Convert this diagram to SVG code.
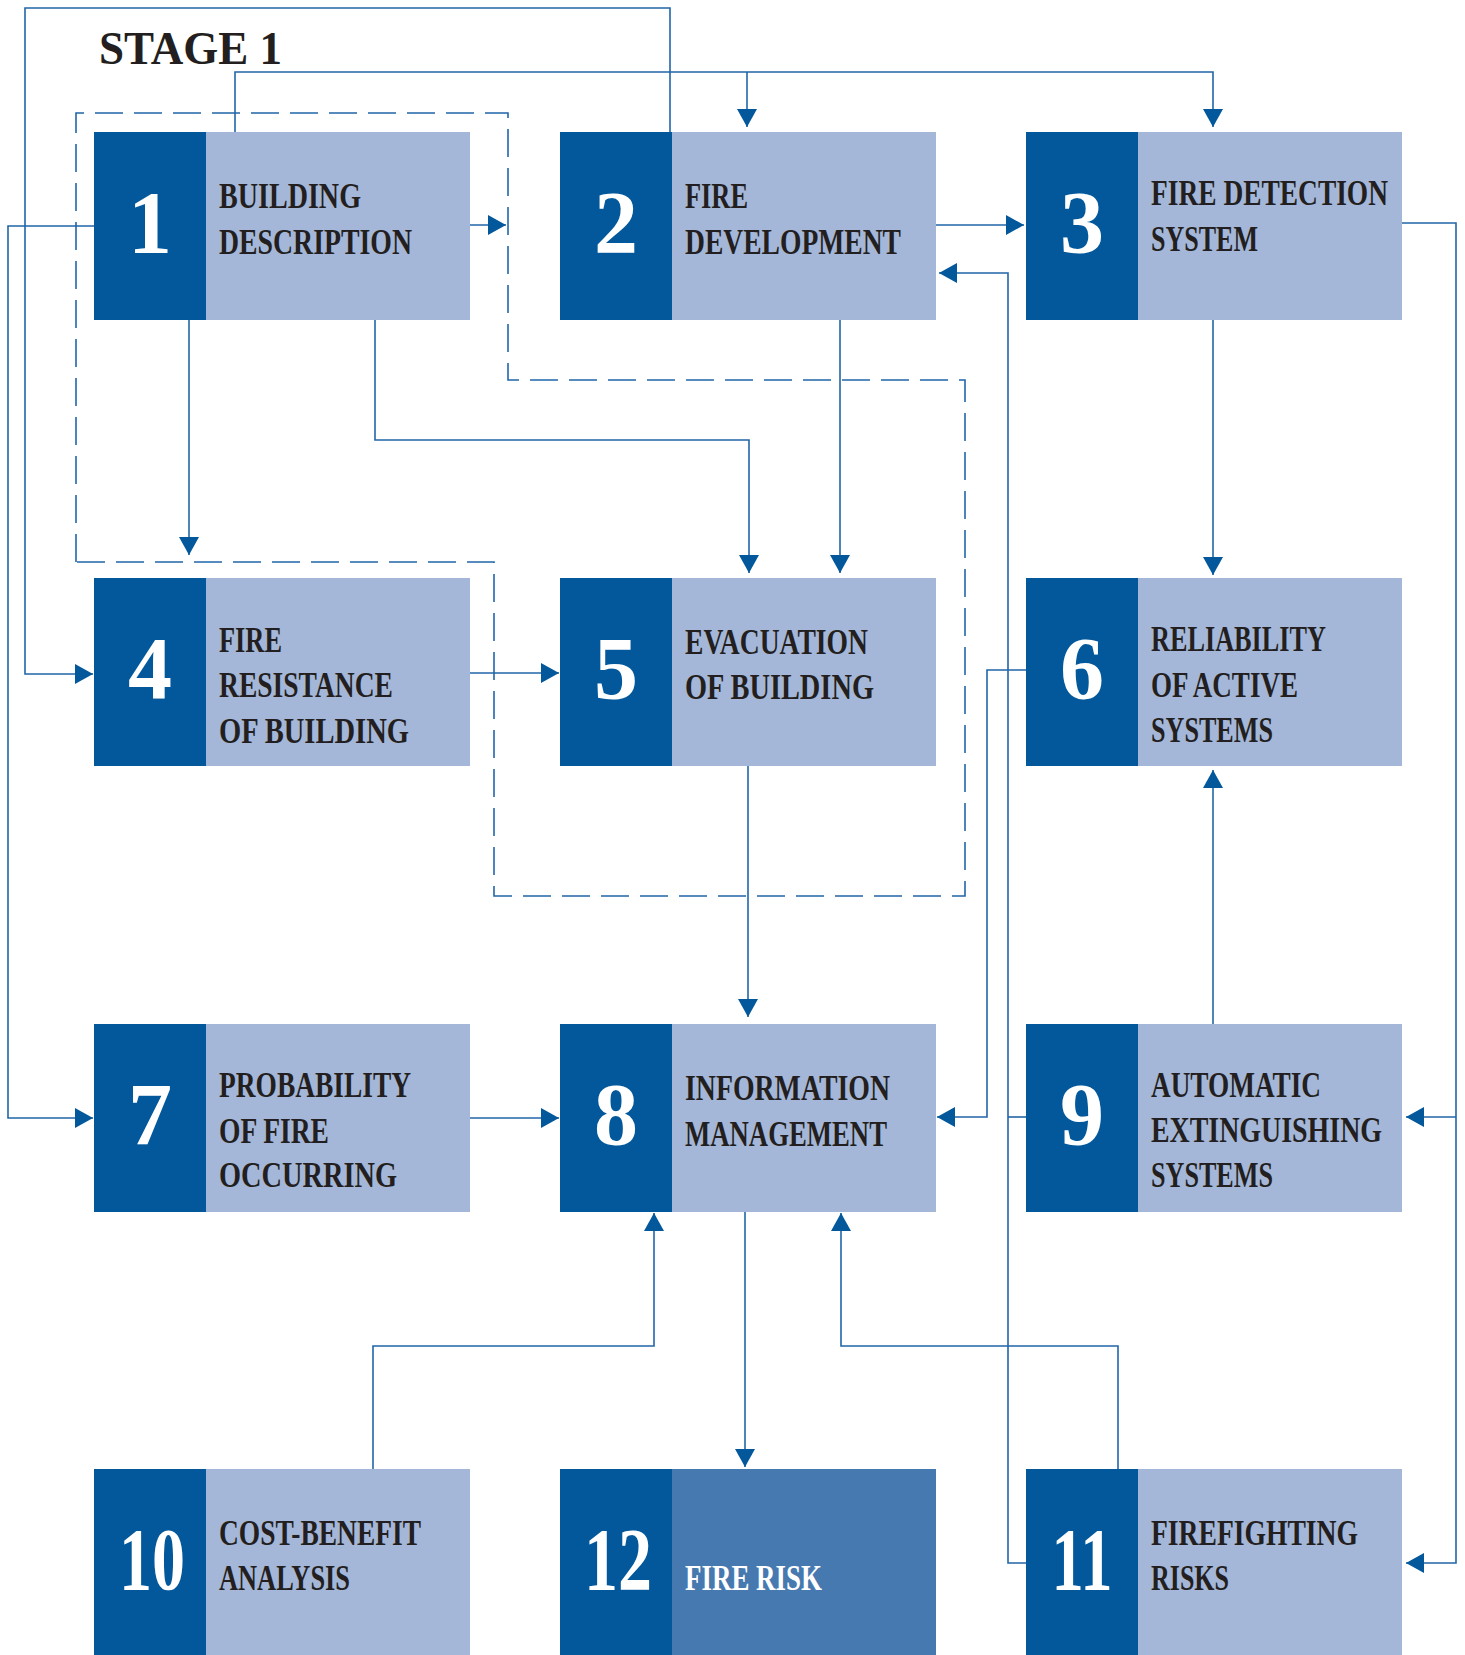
<svg xmlns="http://www.w3.org/2000/svg" width="1465" height="1655" viewBox="0 0 1465 1655">
<style>
.dk{fill:#02589b}
.lt{fill:#a5b7d8}
.lt12{fill:#4679b0}
.num{font-family:"Liberation Serif","Times New Roman",serif;font-weight:bold;font-size:88px;fill:#ffffff;text-anchor:middle}
.lbl{font-family:"Liberation Serif","Times New Roman",serif;font-weight:bold;font-size:36px;fill:#231f20}
.lblw{fill:#ffffff}
.title{font-family:"Liberation Serif","Times New Roman",serif;font-weight:bold;font-size:46px;fill:#231f20}
.ln{fill:none;stroke:#2166a8;stroke-width:1.6}
.ar{marker-end:url(#ah)}
.dash{fill:none;stroke:#2166a8;stroke-width:1.6;stroke-dasharray:28 11}
</style>
<defs>
<marker id="ah" markerUnits="userSpaceOnUse" markerWidth="18" markerHeight="20" refX="18" refY="10" orient="auto">
<path d="M0,0 L18,10 L0,20 Z" fill="#02589b"/>
</marker>
</defs>
<rect width="1465" height="1655" fill="#ffffff"/>
<text class="title" x="99" y="64" textLength="183" lengthAdjust="spacingAndGlyphs">STAGE 1</text>

<g id="connectors">
<path class="dash" d="M76,562 L76,113 L508,113 L508,380 L965,380 L965,896 L494,896 L494,562 Z"/>
<path class="ln ar" d="M94,226 L8,226 L8,1118 L93,1118"/>
<path class="ln ar" d="M670,132 L670,8 L25,8 L25,674 L93,674"/>
<path class="ln ar" d="M235,132 L235,72 L1213,72 L1213,127"/>
<path class="ln ar" d="M747,72 L747,127"/>
<path class="ln ar" d="M470,225 L506,225"/>
<path class="ln ar" d="M189,320 L189,555"/>
<path class="ln ar" d="M375,320 L375,440 L749,440 L749,573"/>
<path class="ln ar" d="M936,225 L1024,225"/>
<path class="ln ar" d="M840,320 L840,573"/>
<path class="ln ar" d="M1026,1563 L1008,1563 L1008,273 L939,273"/>
<path class="ln" d="M1026,1117 L1008,1117"/>
<path class="ln ar" d="M1402,223 L1456,223 L1456,1563 L1406,1563"/>
<path class="ln ar" d="M1456,1117 L1406,1117"/>
<path class="ln ar" d="M1213,320 L1213,575"/>
<path class="ln ar" d="M470,673 L559,673"/>
<path class="ln ar" d="M1026,670 L987,670 L987,1117 L937,1117"/>
<path class="ln ar" d="M1213,1024 L1213,770"/>
<path class="ln ar" d="M748,766 L748,1017"/>
<path class="ln ar" d="M470,1118 L559,1118"/>
<path class="ln ar" d="M373,1469 L373,1346 L654,1346 L654,1213"/>
<path class="ln ar" d="M1118,1469 L1118,1346 L841,1346 L841,1213"/>
<path class="ln ar" d="M745,1212 L745,1467"/>
</g>

<g id="node1">
<rect class="lt" x="94" y="132" width="376" height="188"/>
<rect class="dk" x="94" y="132" width="112" height="188"/>
<text class="num" x="150" y="252">1</text>
<text class="lbl" x="219" y="208" textLength="142" lengthAdjust="spacingAndGlyphs">BUILDING</text>
<text class="lbl" x="219" y="254" textLength="193" lengthAdjust="spacingAndGlyphs">DESCRIPTION</text>
</g>
<g id="node2">
<rect class="lt" x="560" y="132" width="376" height="188"/>
<rect class="dk" x="560" y="132" width="112" height="188"/>
<text class="num" x="616" y="252">2</text>
<text class="lbl" x="685" y="208" textLength="63" lengthAdjust="spacingAndGlyphs">FIRE</text>
<text class="lbl" x="685" y="254" textLength="216" lengthAdjust="spacingAndGlyphs">DEVELOPMENT</text>
</g>
<g id="node3">
<rect class="lt" x="1026" y="132" width="376" height="188"/>
<rect class="dk" x="1026" y="132" width="112" height="188"/>
<text class="num" x="1082" y="252">3</text>
<text class="lbl" x="1151" y="205" textLength="237" lengthAdjust="spacingAndGlyphs">FIRE DETECTION</text>
<text class="lbl" x="1151" y="251" textLength="107" lengthAdjust="spacingAndGlyphs">SYSTEM</text>
</g>
<g id="node4">
<rect class="lt" x="94" y="578" width="376" height="188"/>
<rect class="dk" x="94" y="578" width="112" height="188"/>
<text class="num" x="150" y="698">4</text>
<text class="lbl" x="219" y="652" textLength="63" lengthAdjust="spacingAndGlyphs">FIRE</text>
<text class="lbl" x="219" y="697" textLength="174" lengthAdjust="spacingAndGlyphs">RESISTANCE</text>
<text class="lbl" x="219" y="743" textLength="190" lengthAdjust="spacingAndGlyphs">OF BUILDING</text>
</g>
<g id="node5">
<rect class="lt" x="560" y="578" width="376" height="188"/>
<rect class="dk" x="560" y="578" width="112" height="188"/>
<text class="num" x="616" y="698">5</text>
<text class="lbl" x="685" y="654" textLength="183" lengthAdjust="spacingAndGlyphs">EVACUATION</text>
<text class="lbl" x="685" y="699" textLength="189" lengthAdjust="spacingAndGlyphs">OF BUILDING</text>
</g>
<g id="node6">
<rect class="lt" x="1026" y="578" width="376" height="188"/>
<rect class="dk" x="1026" y="578" width="112" height="188"/>
<text class="num" x="1082" y="698">6</text>
<text class="lbl" x="1151" y="651" textLength="175" lengthAdjust="spacingAndGlyphs">RELIABILITY</text>
<text class="lbl" x="1151" y="697" textLength="147" lengthAdjust="spacingAndGlyphs">OF ACTIVE</text>
<text class="lbl" x="1151" y="742" textLength="122" lengthAdjust="spacingAndGlyphs">SYSTEMS</text>
</g>
<g id="node7">
<rect class="lt" x="94" y="1024" width="376" height="188"/>
<rect class="dk" x="94" y="1024" width="112" height="188"/>
<text class="num" x="150" y="1144">7</text>
<text class="lbl" x="219" y="1097" textLength="192" lengthAdjust="spacingAndGlyphs">PROBABILITY</text>
<text class="lbl" x="219" y="1143" textLength="110" lengthAdjust="spacingAndGlyphs">OF FIRE</text>
<text class="lbl" x="219" y="1187" textLength="178" lengthAdjust="spacingAndGlyphs">OCCURRING</text>
</g>
<g id="node8">
<rect class="lt" x="560" y="1024" width="376" height="188"/>
<rect class="dk" x="560" y="1024" width="112" height="188"/>
<text class="num" x="616" y="1144">8</text>
<text class="lbl" x="685" y="1100" textLength="205" lengthAdjust="spacingAndGlyphs">INFORMATION</text>
<text class="lbl" x="685" y="1146" textLength="202" lengthAdjust="spacingAndGlyphs">MANAGEMENT</text>
</g>
<g id="node9">
<rect class="lt" x="1026" y="1024" width="376" height="188"/>
<rect class="dk" x="1026" y="1024" width="112" height="188"/>
<text class="num" x="1082" y="1144">9</text>
<text class="lbl" x="1151" y="1097" textLength="170" lengthAdjust="spacingAndGlyphs">AUTOMATIC</text>
<text class="lbl" x="1151" y="1142" textLength="231" lengthAdjust="spacingAndGlyphs">EXTINGUISHING</text>
<text class="lbl" x="1151" y="1187" textLength="122" lengthAdjust="spacingAndGlyphs">SYSTEMS</text>
</g>
<g id="node10">
<rect class="lt" x="94" y="1469" width="376" height="188"/>
<rect class="dk" x="94" y="1469" width="112" height="188"/>
<text class="num" x="152" y="1589" textLength="66" lengthAdjust="spacingAndGlyphs">10</text>
<text class="lbl" x="219" y="1545" textLength="202" lengthAdjust="spacingAndGlyphs">COST-BENEFIT</text>
<text class="lbl" x="219" y="1590" textLength="131" lengthAdjust="spacingAndGlyphs">ANALYSIS</text>
</g>
<g id="node12">
<rect class="lt12" x="560" y="1469" width="376" height="188"/>
<rect class="dk" x="560" y="1469" width="112" height="188"/>
<text class="num" x="618" y="1589" textLength="68" lengthAdjust="spacingAndGlyphs">12</text>
<text class="lbl lblw" x="685" y="1590" textLength="137" lengthAdjust="spacingAndGlyphs">FIRE RISK</text>
</g>
<g id="node11">
<rect class="lt" x="1026" y="1469" width="376" height="188"/>
<rect class="dk" x="1026" y="1469" width="112" height="188"/>
<text class="num" x="1082" y="1589" textLength="61" lengthAdjust="spacingAndGlyphs">11</text>
<text class="lbl" x="1151" y="1545" textLength="207" lengthAdjust="spacingAndGlyphs">FIREFIGHTING</text>
<text class="lbl" x="1151" y="1590" textLength="78" lengthAdjust="spacingAndGlyphs">RISKS</text>
</g>
</svg>
